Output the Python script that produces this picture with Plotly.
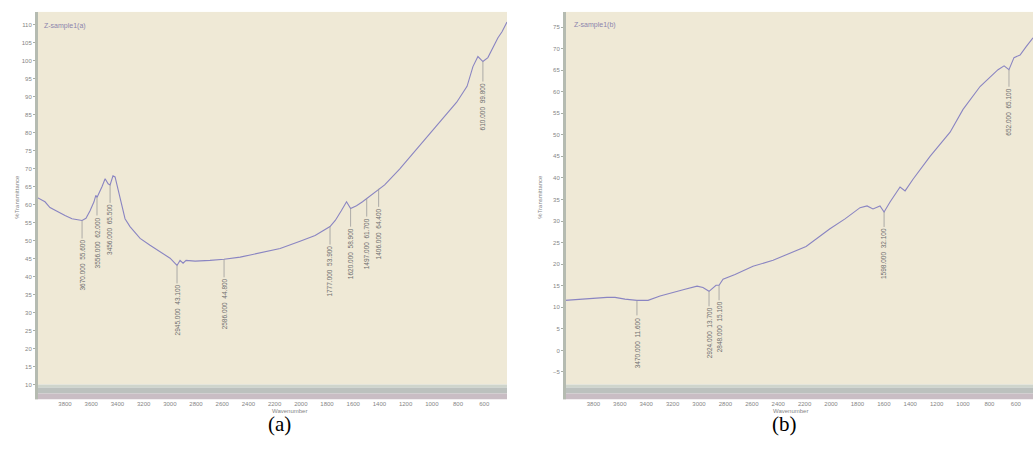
import plotly.graph_objects as go

# ---------------- data ----------------
wn_a = [4014, 3953, 3915, 3861, 3800, 3747, 3701, 3670, 3640, 3609, 3579, 3565, 3556, 3540, 3518,
        3494, 3471, 3456, 3434, 3418, 3395, 3372, 3342, 3304, 3227, 3151, 3075, 2998, 2960, 2945,
        2922, 2899, 2876, 2807, 2693, 2586, 2463, 2311, 2158, 2006, 1891, 1777, 1737, 1691, 1651,
        1620, 1575, 1529, 1497, 1459, 1406, 1360, 1246, 1070, 940, 810, 731, 686, 648, 610,
        572, 533, 495, 464, 426]
t_a = [62.0, 60.8, 59.2, 58.1, 57.0, 56.1, 55.9, 55.6, 56.2, 58.3, 60.8, 62.6, 62.0, 63.2, 65.0,
       67.2, 65.8, 65.5, 68.0, 67.7, 64.4, 60.3, 56.1, 53.9, 50.6, 48.7, 47.0, 45.1, 43.7, 43.1,
       44.5, 43.7, 44.5, 44.3, 44.5, 44.8, 45.4, 46.5, 47.8, 49.8, 51.4, 53.9, 55.6, 58.3, 60.8,
       58.9, 59.7, 60.8, 61.7, 62.8, 64.4, 65.5, 69.9, 77.4, 82.7, 88.5, 92.9, 98.4, 101.2, 99.8,
       100.9, 103.9, 106.4, 108.1, 110.8]
peak_wn_a = [3670, 3556, 3456, 2945, 2586, 1777, 1620, 1497, 1406, 610]
peak_t_a = [55.6, 62.0, 65.5, 43.1, 44.8, 53.9, 58.9, 61.7, 64.4, 99.8]

wn_b = [4015, 3902, 3788, 3697, 3636, 3561, 3470, 3386, 3295, 3220, 3106, 3015, 2970, 2924, 2894,
        2871, 2848, 2818, 2727, 2591, 2439, 2189, 2008, 1894, 1780, 1727, 1682, 1629, 1598, 1553,
        1477, 1439, 1379, 1250, 1098, 1000, 871, 758, 735, 689, 652, 614, 568, 523, 470]
t_b = [11.6, 11.9, 12.1, 12.3, 12.3, 11.9, 11.6, 11.6, 12.6, 13.3, 14.2, 14.9, 14.6, 13.7, 14.6,
       15.1, 15.1, 16.5, 17.6, 19.5, 20.9, 24.1, 28.2, 30.5, 33.1, 33.5, 32.8, 33.5, 32.1, 34.4,
       37.9, 37.0, 39.7, 45.0, 50.6, 55.9, 61.2, 64.6, 65.1, 66.0, 65.1, 67.9, 68.5, 70.4, 72.5]
peak_wn_b = [3470, 2924, 2848, 1598, 652]
peak_t_b = [11.6, 13.7, 15.1, 32.1, 65.1]

x_ticks = list(range(3800, 399, -200))
y_ticks_a = list(range(10, 111, 5))
y_ticks_b = list(range(-5, 76, 5))

sample_a = "Z-sample1(a)"
sample_b = "Z-sample1(b)"
captions = ["(a)", "(b)"]

# ---------------- layout helpers ----------------
W, H = 1033, 455
def px(x):
    return x / W
def py(y):
    return 1 - y / H

BG = "#EFE9D6"
LINE = "#8a85c2"
TXT = "#858585"
SMALL = "Liberation Sans"

fig = go.Figure()
fig.add_trace(go.Scatter(x=wn_a, y=t_a, mode="lines", line=dict(color=LINE, width=1.1),
                         xaxis="x", yaxis="y", showlegend=False, hoverinfo="skip"))
fig.add_trace(go.Scatter(x=wn_b, y=t_b, mode="lines", line=dict(color=LINE, width=1.1),
                         xaxis="x2", yaxis="y2", showlegend=False, hoverinfo="skip"))

xcommon = dict(showgrid=False, zeroline=False, showline=False, ticks="outside", ticklen=13,
               tickcolor="rgba(0,0,0,0)", tickvals=x_ticks, ticktext=[str(v) for v in x_ticks],
               tickfont=dict(family=SMALL, size=6, color=TXT))
ycommon = dict(showgrid=False, zeroline=False, showline=False, ticks="outside", ticklen=3,
               tickcolor="#a9aea6", tickfont=dict(family=SMALL, size=6, color=TXT))

fig.update_layout(
    width=W, height=H, margin=dict(l=0, r=0, t=0, b=0),
    paper_bgcolor="white", plot_bgcolor=BG,
    xaxis=dict(domain=[px(37), px(507)], range=[4014, 426], anchor="y", **xcommon),
    yaxis=dict(domain=[py(387), py(12)], range=[10, 113.6], anchor="x",
               tickvals=y_ticks_a, **ycommon),
    xaxis2=dict(domain=[px(565), 1.0], range=[4015, 470], anchor="y2", **xcommon),
    yaxis2=dict(domain=[py(387), py(12)], range=[-7.9, 78.5], anchor="x2",
                tickvals=y_ticks_b, **ycommon),
)

for x0, x1 in [(35, 507), (563, 1033)]:
    # bottom band
    for (ya, yb, col) in [(387, 390, "#cfd5cc"), (390, 396, "#bcc1be"), (396, 402, "#c9bdc4")]:
        fig.add_shape(type="rect", xref="paper", yref="paper", x0=px(x0), x1=px(x1),
                      y0=py(yb), y1=py(ya), fillcolor=col, line_width=0)
    # left bar
    fig.add_shape(type="rect", xref="paper", yref="paper", x0=px(x0), x1=px(x0 + 3),
                  y0=py(402), y1=py(12), fillcolor="#b5bbb1", line_width=0)

anns = []
def peak_anns(wns, ts, xr, yr, ay):
    for w, t in zip(wns, ts):
        anns.append(dict(x=w, y=t, xref=xr, yref=yr, text=f"{w:.3f}  {t:.3f}", textangle=-90,
                         showarrow=True, arrowhead=0, arrowwidth=0.8, arrowcolor="#9a9a9a",
                         ax=0, ay=ay, standoff=0,
                         font=dict(family=SMALL, size=6.5, color="#6e6e6e")))

peak_anns(peak_wn_a, peak_t_a, "x", "y", 45)
peak_anns(peak_wn_b, peak_t_b, "x2", "y2", 42)

# sample labels
anns.append(dict(x=px(42), y=py(26), xref="paper", yref="paper", text=sample_a, showarrow=False,
                 xanchor="left", yanchor="middle", font=dict(family=SMALL, size=7, color="#8b84ad")))
anns.append(dict(x=px(572), y=py(25), xref="paper", yref="paper", text=sample_b, showarrow=False,
                 xanchor="left", yanchor="middle", font=dict(family=SMALL, size=7, color="#8b84ad")))
# axis titles
for xc in (12, 540):
    anns.append(dict(x=px(xc), y=py(198), xref="paper", yref="paper", text="%Transmittance",
                     textangle=-90, showarrow=False, font=dict(family=SMALL, size=6, color=TXT)))
for xc in (270, 810):
    anns.append(dict(x=px(xc), y=py(419), xref="paper", yref="paper", text="Wavenumber",
                     showarrow=False, font=dict(family=SMALL, size=6, color=TXT)))
# captions
for xc, cap in zip((266, 799), captions):
    anns.append(dict(x=px(xc), y=py(441), xref="paper", yref="paper", text=cap, showarrow=False,
                     font=dict(family="Liberation Serif", size=21, color="black")))

fig.update_layout(annotations=anns)
fig.write_html("out.html")
